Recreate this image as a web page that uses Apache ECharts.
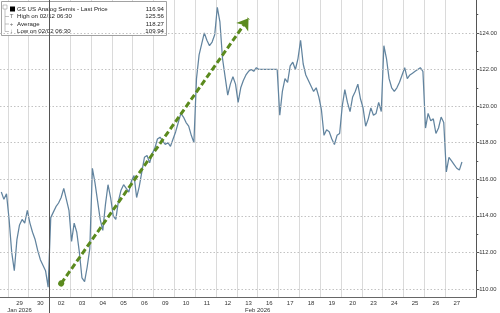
<!DOCTYPE html>
<html><head><meta charset="utf-8">
<script src="https://cdn.jsdelivr.net/npm/echarts@6/dist/echarts.min.js"></script>
<style>html,body{margin:0;padding:0;background:#fff}#c{width:500px;height:313px}</style>
</head><body><div id="c"></div>
<script>
// ---- data ----
const dayLabels = ['28','29','30','02','03','04','05','06','09','10','11','12','13','16','17','18','19','20','23','24','25','26','27'];
const jan28 = [115.3, 114.9, 115.2];
const jan29 = [113.8, 112.0, 111.0, 112.7, 113.5, 113.8, 113.6, 114.3];
const jan30 = [113.6, 113.1, 112.7, 112.1, 111.6, 111.3, 111.0, 110.1];
const feb02 = [113.9, 114.2, 114.5, 114.7, 115.0, 115.5, 114.9, 114.3];
const feb03 = [112.6, 113.6, 113.1, 112.0, 110.6, 110.4, 111.2, 112.2];
const feb04 = [116.6, 115.8, 114.8, 113.8, 113.2, 114.6, 115.7, 115.0];
const feb05 = [114.0, 113.8, 114.8, 115.4, 115.7, 115.5, 115.3, 115.9];
const feb06 = [116.2, 115.0, 115.6, 116.4, 117.2, 117.3, 116.9, 117.4];
const feb09 = [117.7, 118.2, 118.3, 118.1, 117.9, 118.0, 117.8, 118.2];
const feb10 = [118.6, 119.1, 119.6, 119.4, 119.1, 118.9, 118.4, 118.0];
const feb11 = [121.5, 122.8, 123.4, 124.0, 123.6, 123.3, 123.5, 123.9];
const feb12 = [125.4, 124.6, 122.6, 121.6, 120.6, 121.2, 121.6, 121.2];
const feb13 = [120.2, 121.0, 121.4, 121.7, 121.9, 122.0, 121.9, 122.1];
const feb16 = [122.0, 122.0, 122.0, 122.0, 122.0, 122.0, 122.0, 122.0];
const feb17 = [119.5, 120.8, 121.5, 121.3, 122.2, 122.4, 122.0, 122.6];
const feb18 = [123.6, 122.3, 121.7, 121.4, 121.1, 120.8, 121.0, 120.5];
const feb19 = [119.8, 118.4, 118.7, 118.6, 118.2, 117.9, 118.4, 118.5];
const feb20 = [120.0, 120.9, 120.2, 119.7, 120.5, 120.8, 121.2, 120.4];
const feb23 = [119.9, 118.9, 119.3, 119.9, 119.5, 119.6, 120.2, 119.7];
const feb24 = [123.3, 122.6, 121.5, 121.0, 120.8, 121.0, 121.3, 121.7];
const feb25 = [122.1, 121.5, 121.7, 121.8, 121.9, 122.0, 122.1, 121.9];
const feb26 = [118.8, 119.6, 119.2, 119.3, 118.5, 118.8, 119.4, 119.1];
const feb27 = [116.4, 117.2, 117.0, 116.8, 116.6, 116.5, 116.94];
const dayValues = [jan28, jan29, jan30, feb02, feb03, feb04, feb05, feb06, feb09, feb10, feb11, feb12, feb13,
                   feb16, feb17, feb18, feb19, feb20, feb23, feb24, feb25, feb26, feb27];
const yMajorTicks = [110, 112, 114, 116, 118, 120, 122, 124];
const yMinorTicks = [111, 113, 115, 117, 119, 121, 123, 125];
const monthLabels = ['Jan 2026', 'Feb 2026'];
const legendNames = ['GS US Analog Semis - Last Price', 'High on 02/12 06:30', 'Average', 'Low on 02/02 06:30'];
const legendValues = [116.94, 125.56, 118.27, 109.94];
const lastPrice = 116.94;
const trendFrom = ['02', 110.3];
const trendTo = ['13', 124.8];

// ---- build category slots ----
const SLOTS = 8, TRAIL = 4;
const cats = [], vals = [], dayStart = {};
dayLabels.forEach((d, i) => {
  const v = dayValues[i];
  const n = i === 0 ? v.length : SLOTS;
  dayStart[d] = cats.length;
  for (let k = 0; k < n; k++) { cats.push(d); vals.push(k < v.length ? v[k] : null); }
});
for (let k = 0; k < TRAIL; k++) { cats.push(''); vals.push(null); }
const firstFull = dayStart['29'];
const lastStart = dayStart['27'];
const centerIdx = d => dayStart[d] + SLOTS / 2 - 0.5;

const FONT = '"Liberation Sans", Arial, sans-serif';
const Y_MIN = 109.56, Y_MAX = 125.8;
const chart = echarts.init(document.getElementById('c'), null, {renderer: 'canvas'});
chart.setOption({
  animation: false,
  textStyle: {fontFamily: FONT},
  grid: {left: 0, top: 0, right: 23, bottom: 16, containLabel: false},
  xAxis: {
    type: 'category', data: cats, boundaryGap: true,
    axisLine: {show: true, lineStyle: {color: '#666', width: 1}},
    axisTick: {show: false},
    axisLabel: {
      interval: (i) => i >= firstFull && i < lastStart + SLOTS && (i - firstFull) % SLOTS === SLOTS / 2,
      fontSize: 6, color: '#333', margin: 3, fontFamily: FONT
    },
    splitLine: {
      show: true,
      interval: (i) => i >= firstFull && i <= lastStart && (i - firstFull) % SLOTS === 0,
      lineStyle: {color: '#dadada', width: 1}
    }
  },
  yAxis: [{
    type: 'value', position: 'right', min: Y_MIN, max: Y_MAX,
    axisLine: {show: true, lineStyle: {color: '#555', width: 1}},
    axisTick: {show: true, length: 3, lineStyle: {color: '#555'}, customValues: yMajorTicks},
    axisLabel: {show: true, fontSize: 5.8, color: '#333', margin: 3, customValues: yMajorTicks,
      formatter: v => v.toFixed(2), fontFamily: FONT},
    splitLine: {show: false}
  }, {
    type: 'value', position: 'right', min: Y_MIN, max: Y_MAX,
    axisLine: {show: false},
    axisTick: {show: true, length: 2, lineStyle: {color: '#555'}, customValues: yMinorTicks},
    axisLabel: {show: false},
    splitLine: {show: false}
  }],
  series: [{
    // horizontal dotted grid at the major tick values
    type: 'line', data: vals.map(() => null), z: 1, silent: true,
    markLine: {
      silent: true, symbol: ['none', 'none'], label: {show: false},
      lineStyle: {color: '#c2c2c2', type: [1.5, 2], width: 1},
      data: yMajorTicks.map(v => ({yAxis: v}))
    }
  }, {
    type: 'line', data: vals, showSymbol: false, connectNulls: false, z: 3,
    lineStyle: {color: '#62849f', width: 1.25},
    markLine: {
      silent: true, symbol: ['none', 'none'],
      lineStyle: {color: '#5b8a1e', width: 3, type: [6, 3]},
      label: {show: false},
      data: [
        {yAxis: lastPrice, lineStyle: {opacity: 0},
          label: {show: true, position: 'end', distance: 2, formatter: lastPrice.toFixed(2), color: '#fff',
            backgroundColor: '#111', padding: [2, 1, 1, 1], fontSize: 5.8, fontFamily: FONT}},
        [
          {coord: [centerIdx(trendFrom[0]), trendFrom[1]], symbol: 'circle', symbolSize: 6},
          {coord: [centerIdx(trendTo[0]), trendTo[1]], symbol: 'arrow', symbolSize: 11}
        ]
      ]
    }
  }]
});

// month divider + month labels + legend box
const px = i => chart.convertToPixel({xAxisIndex: 0}, i);
const band = px(1) - px(0);
const divX = Math.round(px(dayStart['02']) - band / 2) + 0.5;
const janX = px(centerIdx('29'));
const febX = (px(dayStart['02']) + px(lastStart + SLOTS)) / 2 - band / 2;
const legendTexts = [];
const rowY = [9, 16.5, 24, 31.5];
const icons = ['', 'T', '+', '\u2193'];
legendNames.forEach((n, i) => {
  legendTexts.push({type: 'text', style: {x: 17, y: rowY[i], text: n, font: '6.1px ' + FONT, fill: '#222', verticalAlign: 'middle'}});
  legendTexts.push({type: 'text', style: {x: 164, y: rowY[i], text: legendValues[i].toFixed(2), font: '6.1px ' + FONT, fill: '#222', align: 'right', verticalAlign: 'middle'}});
  if (i > 0) {
    legendTexts.push({type: 'text', style: {x: 11.5, y: rowY[i], text: icons[i], font: '6px ' + FONT, fill: '#666', align: 'center', verticalAlign: 'middle'}});
    legendTexts.push({type: 'line', shape: {x1: 5, y1: rowY[i], x2: 9, y2: rowY[i]}, style: {stroke: '#999', lineWidth: 0.6}});
  }
});
chart.setOption({
  graphic: [
    {type: 'line', shape: {x1: divX, y1: 0, x2: divX, y2: 313}, style: {stroke: '#555', lineWidth: 1}, z: 5},
    {type: 'text', style: {x: janX, y: 310, text: monthLabels[0], font: '6px ' + FONT, fill: '#333', align: 'center', verticalAlign: 'middle'}},
    {type: 'text', style: {x: febX, y: 310, text: monthLabels[1], font: '6px ' + FONT, fill: '#333', align: 'center', verticalAlign: 'middle'}},
    {type: 'group', z: 10, children: [
      {type: 'rect', shape: {x: 1.5, y: 1.5, width: 165, height: 34}, style: {fill: '#fff', stroke: '#8a8a8a', lineWidth: 0.8}},
      {type: 'rect', shape: {x: 3, y: 5, width: 4, height: 4}, style: {fill: '#fff', stroke: '#999', lineWidth: 0.6}},
      {type: 'line', shape: {x1: 5, y1: 9, x2: 5, y2: 31.5}, style: {stroke: '#999', lineWidth: 0.6}},
      {type: 'rect', shape: {x: 10, y: 6.5, width: 5, height: 5}, style: {fill: '#000'}},
      ...legendTexts
    ]}
  ]
});
</script></body></html>
